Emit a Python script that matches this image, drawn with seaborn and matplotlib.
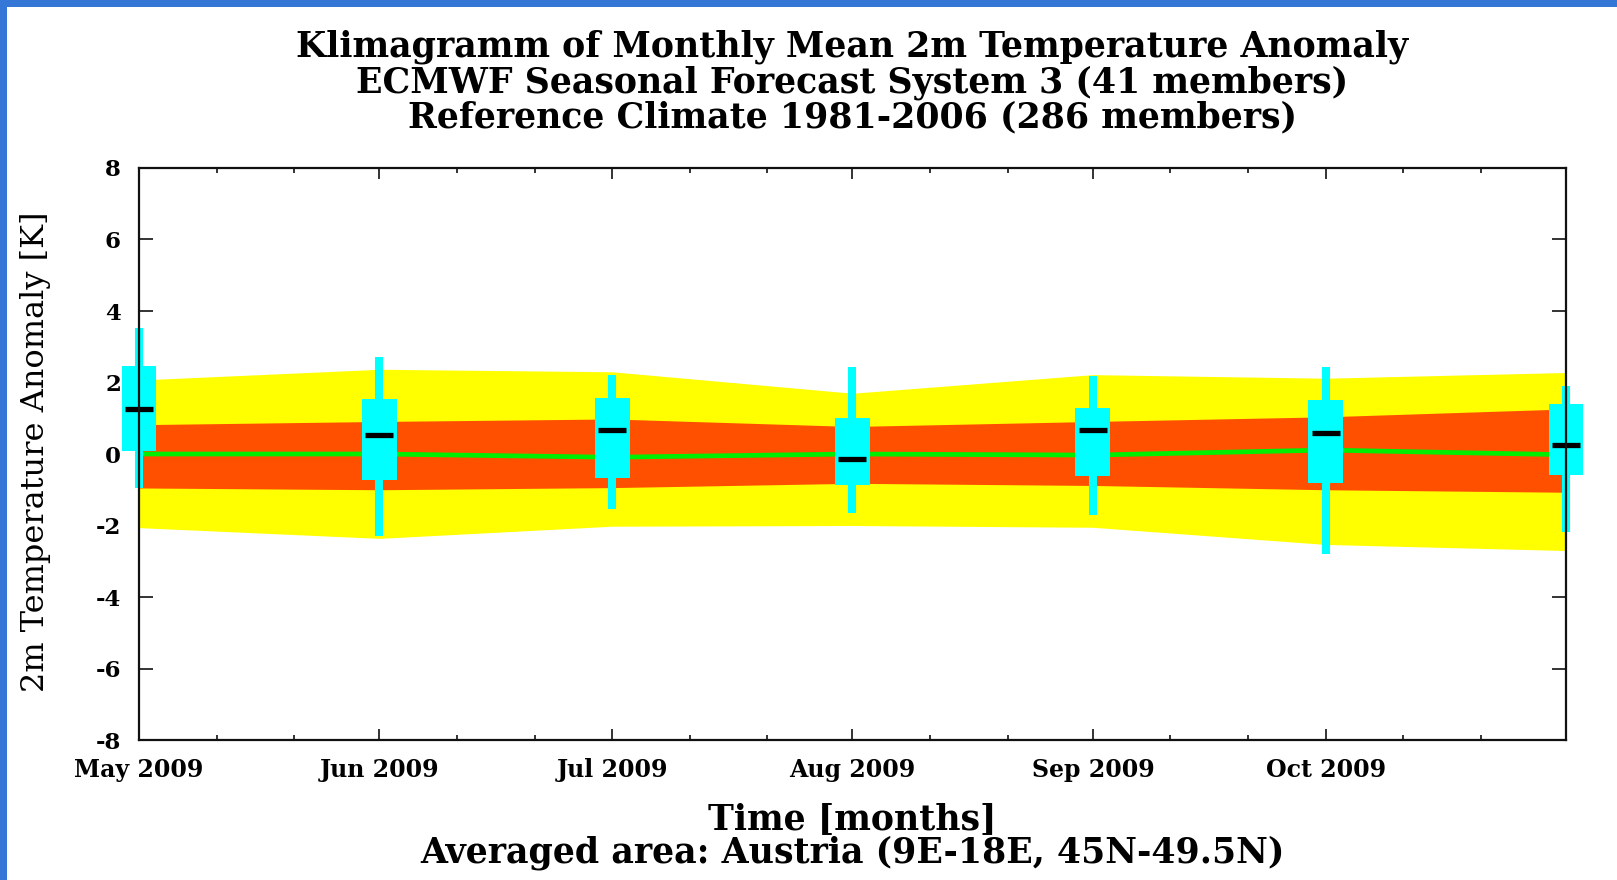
import matplotlib
matplotlib.use("Agg")
import matplotlib.pyplot as plt
import matplotlib.dates as mdates
from matplotlib.patches import Rectangle
import matplotlib.ticker as mticker
import seaborn as sns
import pandas as pd
import numpy as np

# ---------------- data ----------------
months = ["2009-05-01", "2009-06-01", "2009-07-01", "2009-08-01",
          "2009-09-01", "2009-10-01", "2009-11-01"]
tick_months = ["2009-05-01", "2009-06-01", "2009-07-01", "2009-08-01",
               "2009-09-01", "2009-10-01"]

# reference climate (bands)
clim_outer_hi = [2.07, 2.37, 2.30, 1.70, 2.22, 2.12, 2.28]
clim_outer_lo = [-2.06, -2.36, -2.02, -2.00, -2.05, -2.53, -2.70]
clim_inner_hi = [0.82, 0.91, 0.98, 0.77, 0.91, 1.04, 1.26]
clim_inner_lo = [-0.95, -1.00, -0.94, -0.82, -0.88, -1.00, -1.07]
clim_median = [0.00, 0.00, -0.09, 0.00, -0.03, 0.11, -0.02]

# forecast ensemble (boxes)
fc_min = [-0.94, -2.30, -1.55, -1.66, -1.72, -2.81, -2.19]
fc_q1 = [0.08, -0.72, -0.67, -0.87, -0.61, -0.81, -0.59]
fc_med = [1.27, 0.53, 0.66, -0.14, 0.67, 0.59, 0.25]
fc_q3 = [2.47, 1.54, 1.57, 1.00, 1.29, 1.50, 1.40]
fc_max = [3.53, 2.70, 2.21, 2.42, 2.19, 2.42, 1.91]

title_lines = ["Klimagramm of Monthly Mean 2m Temperature Anomaly",
               "ECMWF Seasonal Forecast System 3 (41 members)",
               "Reference Climate 1981-2006 (286 members)"]
ylabel = "2m Temperature Anomaly [K]"
xlabel = "Time [months]"
area_label = "Averaged area: Austria (9E-18E, 45N-49.5N)"

# ---------------- styling ----------------
W, H = 1617, 880
YELLOW = "#ffff00"
RED = "#ff5000"
GREEN = "#00ee00"
CYAN = "#00ffff"
BLUE = "#3577d6"

sns.set_theme(style="ticks")
plt.rcParams["font.family"] = ["DejaVu Serif", "DejaVu Sans"]
plt.rcParams["axes.unicode_minus"] = False
plt.rcParams["text.color"] = "black"
plt.rcParams["xtick.color"] = "black"
plt.rcParams["ytick.color"] = "black"
plt.rcParams["xtick.labelcolor"] = "black"
plt.rcParams["ytick.labelcolor"] = "black"

dates = pd.to_datetime(months)
x = mdates.date2num(dates)
df = pd.DataFrame({"date": dates, "median": clim_median})

fig = plt.figure(figsize=(W / 100, H / 100), dpi=100)
fig.patch.set_facecolor("white")
ax = fig.add_axes([139 / W, 1 - 740 / H, (1566 - 139) / W, (740 - 168) / H])

ax.fill_between(dates, clim_outer_lo, clim_outer_hi, color=YELLOW, lw=0, zorder=1)
ax.fill_between(dates, clim_inner_lo, clim_inner_hi, color=RED, lw=0, zorder=2)
sns.lineplot(data=df, x="date", y="median", color=GREEN, lw=3.4, ax=ax, zorder=3)

stats = [dict(whislo=a, q1=b, med=c, q3=d, whishi=e)
         for a, b, c, d, e in zip(fc_min, fc_q1, fc_med, fc_q3, fc_max)]
bp = ax.bxp(stats, positions=x, widths=4.5, patch_artist=True,
            showcaps=False, showfliers=False, manage_ticks=False,
            boxprops=dict(facecolor=CYAN, edgecolor=CYAN, linewidth=0),
            whiskerprops=dict(color=CYAN, linewidth=5.8, solid_capstyle="butt"),
            medianprops=dict(linewidth=0))
for art in bp["boxes"] + bp["whiskers"]:
    art.set_zorder(4)
    art.set_clip_on(False)
ax.plot(dates, fc_med, linestyle="none", marker="_", markersize=20,
        markeredgewidth=3.8, color="black", zorder=5, clip_on=False)

ax.set_xlim(x[0], x[-1])
ax.set_ylim(-8, 8)
ax.set_yticks(np.arange(-8, 9, 2))
ax.xaxis.set_major_locator(mticker.FixedLocator(mdates.date2num(pd.to_datetime(tick_months))))
ax.xaxis.set_major_formatter(mdates.DateFormatter("%b %Y"))
ax.xaxis.set_minor_locator(mdates.DayLocator(bymonthday=[11, 21]))
ax.set_xlabel("")
ax.set_ylabel("")

for sp in ax.spines.values():
    sp.set_visible(True)
    sp.set_linewidth(1.6)
    sp.set_color("#111111")
    sp.set_zorder(6)

ax.tick_params(axis="both", which="both", direction="in", top=True, right=True,
               color="#111111", width=1.2)
ax.tick_params(axis="x", which="major", length=7.7, pad=13, labelsize=17)
ax.tick_params(axis="x", which="minor", length=3.6)
ax.tick_params(axis="y", which="major", length=10, pad=13, labelsize=16.5)
for lab in ax.get_xticklabels() + ax.get_yticklabels():
    lab.set_fontweight("bold")
    lab.set_color("black")

cx = (139 + 1566) / 2 / W
for line, yb in zip(title_lines, [56, 92, 127]):
    fig.text(cx, 1 - yb / H, line, ha="center", va="baseline",
             fontsize=25, fontweight="bold", color="black")
fig.text(cx, 1 - 829 / H, xlabel, ha="center", va="baseline",
         fontsize=25, fontweight="bold", color="black")
fig.text(cx, 1 - 862 / H, area_label, ha="center", va="baseline",
         fontsize=25, fontweight="bold", color="black")
fig.text(36 / W, 1 - 452 / H, ylabel, ha="center", va="center",
         rotation=90, fontsize=23, color="black")

# blue frame
fig.add_artist(Rectangle((0, 0), 7 / W, 1, transform=fig.transFigure,
                         facecolor=BLUE, edgecolor="none"))
fig.add_artist(Rectangle((0, 1 - 7 / H), 1, 7 / H, transform=fig.transFigure,
                         facecolor=BLUE, edgecolor="none"))

fig.savefig("out.png", dpi=100)
